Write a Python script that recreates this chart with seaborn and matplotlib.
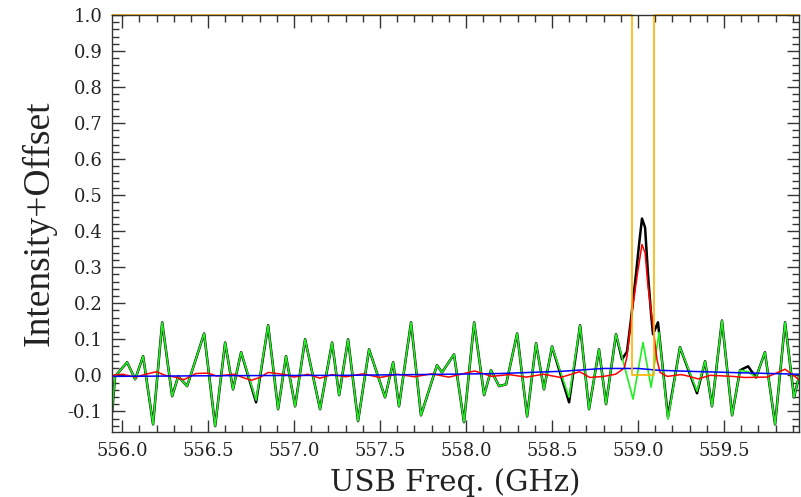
import matplotlib
matplotlib.use('Agg')
import matplotlib.pyplot as plt
import seaborn as sns
from matplotlib.ticker import MultipleLocator, FormatStrFormatter

# standing-wave fit (green)
fit_freq = [555.942, 555.959, 556.029, 556.076, 556.122, 556.180, 556.233, 556.291, 556.326, 556.378,
            556.477, 556.541, 556.599, 556.645, 556.692, 556.779, 556.849, 556.907, 556.953, 557.006,
            557.064, 557.151, 557.221, 557.262, 557.314, 557.372, 557.436, 557.529, 557.576, 557.610,
            557.680, 557.738, 557.831, 557.860, 557.930, 557.988, 558.047, 558.105, 558.145, 558.192,
            558.233, 558.297, 558.355, 558.407, 558.453, 558.500, 558.599, 558.663, 558.715, 558.773,
            558.814, 558.872, 558.971, 559.029, 559.076, 559.122, 559.174, 559.244, 559.343, 559.390,
            559.430, 559.488, 559.547, 559.593, 559.640, 559.686, 559.738, 559.797, 559.855, 559.907,
            559.936]
fit_int = [-0.102, -0.003, 0.036, -0.011, 0.053, -0.136, 0.147, -0.058, -0.003, -0.030,
           0.116, -0.141, 0.091, -0.039, 0.064, -0.069, 0.139, -0.094, 0.053, -0.086,
           0.100, -0.094, 0.091, -0.055, 0.100, -0.127, 0.072, -0.061, 0.036, -0.086,
           0.147, -0.111, 0.028, 0.008, 0.058, -0.130, 0.147, -0.055, 0.014, -0.030,
           -0.025, 0.116, -0.114, 0.089, -0.039, 0.080, -0.061, 0.139, -0.094, 0.072,
           -0.080, 0.114, -0.066, 0.091, -0.033, 0.119, -0.122, 0.078, -0.044, 0.039,
           -0.086, 0.152, -0.111, 0.014, 0.010, -0.006, 0.064, -0.136, 0.147, -0.061,
           -0.003]

# observed spectrum (black)
obs_freq = [555.942, 555.959, 556.029, 556.076, 556.122, 556.180, 556.233, 556.291, 556.326, 556.378,
            556.477, 556.541, 556.599, 556.645, 556.692, 556.779, 556.849, 556.907, 556.953, 557.006,
            557.064, 557.151, 557.221, 557.262, 557.314, 557.372, 557.436, 557.529, 557.576, 557.610,
            557.680, 557.738, 557.831, 557.860, 557.930, 557.988, 558.047, 558.105, 558.145, 558.192,
            558.233, 558.297, 558.355, 558.407, 558.453, 558.500, 558.599, 558.663, 558.715, 558.773,
            558.814, 558.872, 558.907, 558.936, 558.959, 558.988, 559.006, 559.023, 559.041, 559.058,
            559.076, 559.087, 559.116, 559.174, 559.244, 559.343, 559.390, 559.430, 559.488, 559.547,
            559.593, 559.640, 559.686, 559.738, 559.797, 559.855, 559.907, 559.936]
obs_int = [-0.102, -0.003, 0.036, -0.011, 0.053, -0.136, 0.147, -0.058, -0.003, -0.030,
           0.116, -0.141, 0.091, -0.039, 0.064, -0.075, 0.139, -0.094, 0.053, -0.086,
           0.100, -0.094, 0.091, -0.055, 0.100, -0.127, 0.072, -0.061, 0.036, -0.086,
           0.147, -0.111, 0.028, 0.008, 0.058, -0.130, 0.147, -0.055, 0.014, -0.030,
           -0.025, 0.116, -0.114, 0.089, -0.039, 0.080, -0.075, 0.139, -0.094, 0.072,
           -0.080, 0.114, 0.044, 0.066, 0.155, 0.280, 0.363, 0.435, 0.410, 0.280,
           0.169, 0.114, 0.147, -0.116, 0.078, -0.050, 0.039, -0.086, 0.152, -0.111,
           0.014, 0.025, -0.006, 0.064, -0.136, 0.147, -0.061, -0.003]

# residual (red)
res_freq = [555.942, 556.000, 556.080, 556.130, 556.200, 556.250, 556.300, 556.360, 556.430, 556.500,
            556.550, 556.650, 556.750, 556.800, 556.850, 556.950, 557.000, 557.080, 557.150, 557.220,
            557.300, 557.400, 557.500, 557.600, 557.700, 557.800, 557.900, 558.050, 558.150, 558.250,
            558.350, 558.450, 558.550, 558.660, 558.720, 558.800, 558.870, 558.920, 558.936, 558.965,
            558.994, 559.023, 559.041, 559.058, 559.087, 559.110, 559.128, 559.170, 559.250, 559.290,
            559.350, 559.420, 559.550, 559.620, 559.750, 559.855, 559.936]
res_int = [0.000, 0.003, -0.005, 0.002, 0.010, 0.000, -0.004, -0.012, 0.005, 0.006,
           -0.002, 0.003, -0.014, -0.006, 0.008, 0.002, -0.005, 0.003, -0.008, 0.002,
           -0.004, 0.004, -0.006, 0.003, -0.004, 0.004, -0.005, 0.012, -0.003, 0.002,
           -0.005, 0.003, -0.006, 0.010, -0.006, -0.003, 0.003, 0.020, 0.053, 0.175,
           0.274, 0.363, 0.340, 0.247, 0.136, 0.044, 0.008, -0.003, 0.002, -0.002,
           -0.010, 0.000, -0.003, -0.006, -0.005, 0.017, -0.012]

# baseline (blue)
base_freq = [555.942, 556.600, 557.300, 557.900, 558.200, 558.370, 558.550, 558.800, 559.000, 559.120,
             559.300, 559.600, 559.936]
base_int = [-0.003, -0.001, 0.000, 0.003, 0.005, 0.008, 0.011, 0.019, 0.019, 0.014,
            0.011, 0.007, 0.003]

# line mask (orange)
mask_freq = [555.942, 558.965, 558.965, 559.093, 559.093, 559.936]
mask_val = [1.0, 1.0, 0.0, 0.0, 1.0, 1.0]

sns.set_style('ticks')
plt.rcParams['font.family'] = ['DejaVu Serif']
plt.rcParams['axes.unicode_minus'] = False

fig = plt.figure(figsize=(8.01, 4.97), dpi=100)
ax = fig.add_axes([0.14, 0.131, 0.8575, 0.839])

sns.lineplot(x=obs_freq, y=obs_int, color='black', linewidth=1.8, sort=False, estimator=None, ax=ax)
sns.lineplot(x=fit_freq, y=fit_int, color='#22ee22', linewidth=1.2, sort=False, estimator=None, ax=ax)
sns.lineplot(x=res_freq, y=res_int, color='#ff0000', linewidth=1.1, sort=False, estimator=None, ax=ax)
sns.lineplot(x=base_freq, y=base_int, color='#0000ff', linewidth=1.1, sort=False, estimator=None, ax=ax)
sns.lineplot(x=mask_freq, y=mask_val, color='#ffb300', linewidth=1.2, sort=False, estimator=None, ax=ax)
ax.lines[-1].set_clip_on(False)

ax.set_xlim(555.942, 559.936)
ax.set_ylim(-0.157, 1.0)
ax.xaxis.set_major_locator(MultipleLocator(0.5))
ax.xaxis.set_minor_locator(MultipleLocator(0.1))
ax.yaxis.set_major_locator(MultipleLocator(0.1))
ax.yaxis.set_minor_locator(MultipleLocator(0.02))
ax.xaxis.set_major_formatter(FormatStrFormatter('%.1f'))
ax.yaxis.set_major_formatter(FormatStrFormatter('%.1f'))
ax.tick_params(which='both', direction='in', top=True, right=True, width=1, colors='#333333',
               labelcolor='#222222', labelsize=13)
ax.tick_params(which='major', length=9, pad=7)
ax.tick_params(which='minor', length=5)
for s in ax.spines.values():
    s.set_linewidth(1.0)
    s.set_color('#333333')

ax.set_xlabel('USB Freq. (GHz)', fontsize=21, labelpad=6, color='#222222')
ax.set_ylabel('Intensity+Offset', fontsize=27, family='Liberation Serif', labelpad=8, color='#222222')

fig.savefig('out.png', dpi=100)
